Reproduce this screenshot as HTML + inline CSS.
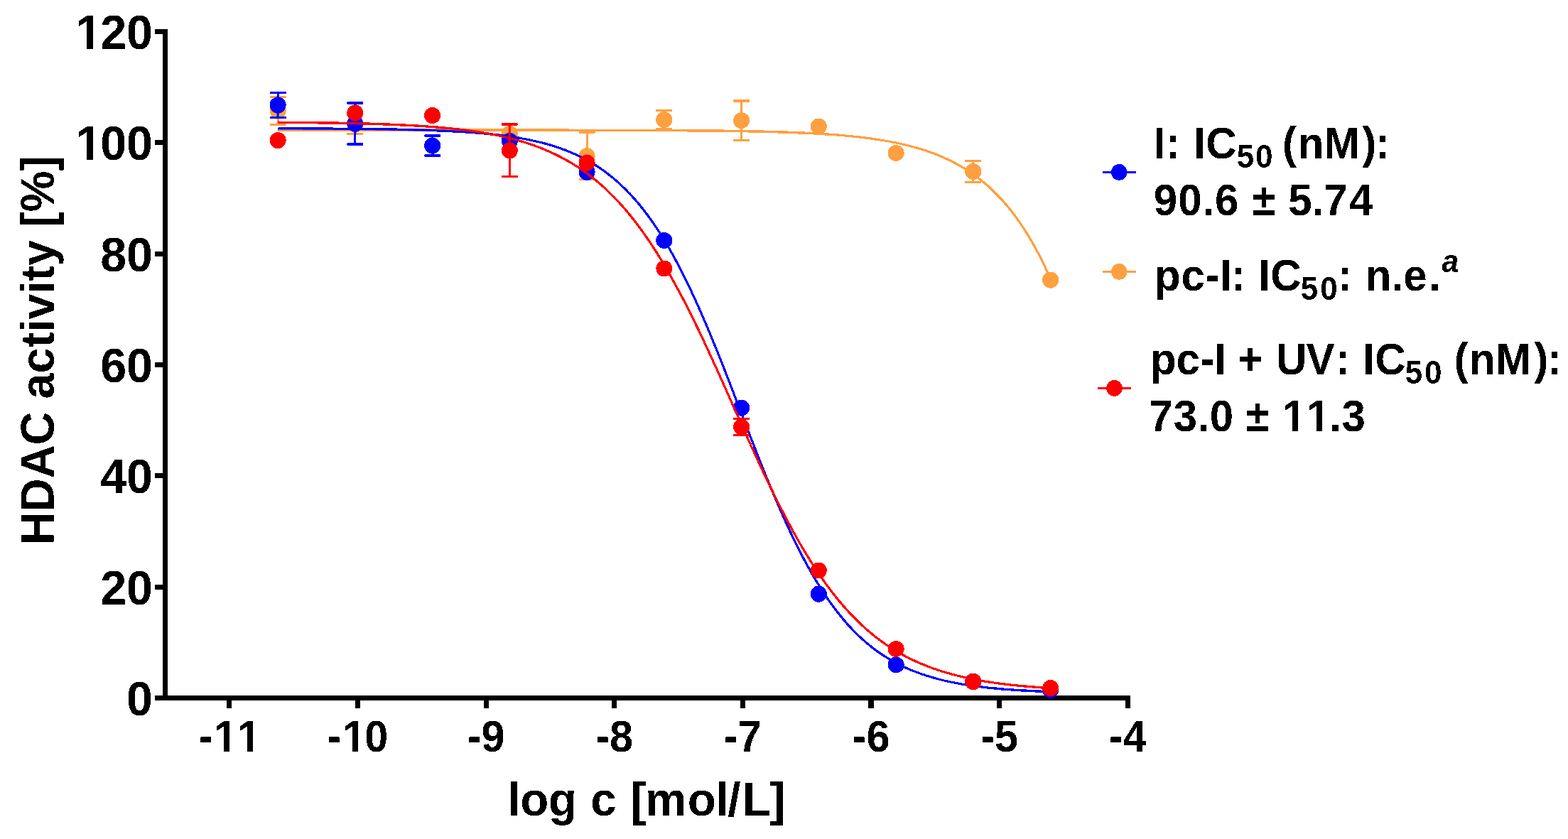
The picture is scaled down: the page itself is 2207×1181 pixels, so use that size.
<!DOCTYPE html>
<html><head><meta charset="utf-8"><title>HDAC activity</title>
<style>html,body{margin:0;padding:0;background:#fff;overflow:hidden;}svg{display:block}
text{font-family:"Liberation Sans",Arial,sans-serif;font-weight:bold;fill:#000;font-kerning:none;font-feature-settings:"kern" 0}</style></head>
<body>
<svg width="2207" height="1181" viewBox="0 0 2207 1181">
<rect width="2207" height="1181" fill="#fff"/>
<defs><filter id="alias" x="0" y="0" width="2207" height="1181" filterUnits="userSpaceOnUse" color-interpolation-filters="sRGB"><feComponentTransfer><feFuncA type="discrete" tableValues="0 1"/></feComponentTransfer></filter></defs>
<g filter="url(#alias)">
<g fill="#000">
<rect x="229" y="41" width="7" height="945"/>
<rect x="218" y="979" width="1373" height="7"/>
<rect x="218" y="979.0" width="18" height="7"/>
<rect x="218" y="822.7" width="18" height="7"/>
<rect x="218" y="666.3" width="18" height="7"/>
<rect x="218" y="510.0" width="18" height="7"/>
<rect x="218" y="353.7" width="18" height="7"/>
<rect x="218" y="197.3" width="18" height="7"/>
<rect x="218" y="41.0" width="18" height="7"/>
<rect x="319.3" y="979" width="7" height="18"/>
<rect x="500.0" y="979" width="7" height="18"/>
<rect x="680.6" y="979" width="7" height="18"/>
<rect x="861.2" y="979" width="7" height="18"/>
<rect x="1041.9" y="979" width="7" height="18"/>
<rect x="1222.5" y="979" width="7" height="18"/>
<rect x="1403.2" y="979" width="7" height="18"/>
<rect x="1583.8" y="979" width="7" height="18"/>
</g>
<g mask="url(#feet)">
<text transform="translate(0,1006.8) scale(1,1.04)" font-size="66.4" x="178.07">0</text>
<text transform="translate(0,850.5) scale(1,1.04)" font-size="66.4" x="141.14 178.07">20</text>
<text transform="translate(0,694.1) scale(1,1.04)" font-size="66.4" x="141.14 178.07">40</text>
<text transform="translate(0,537.8) scale(1,1.04)" font-size="66.4" x="141.14 178.07">60</text>
<text transform="translate(0,381.5) scale(1,1.04)" font-size="66.4" x="141.14 178.07">80</text>
<text transform="translate(0,225.1) scale(1,1.04)" font-size="66.4" x="106.50 141.14 178.07">100</text>
<text transform="translate(0,68.8) scale(1,1.04)" font-size="66.4" x="106.50 141.14 178.07">120</text>
<text transform="translate(0,1057.8) scale(1,1.06)" font-size="59.4" x="279.89 301.14 334.14">-11</text>
<text transform="translate(0,1057.8) scale(1,1.06)" font-size="59.4" x="460.53 482.14 513.35">-10</text>
<text transform="translate(0,1057.8) scale(1,1.06)" font-size="59.4" x="657.69 677.47">-9</text>
<text transform="translate(0,1057.8) scale(1,1.06)" font-size="59.4" x="838.33 858.11">-8</text>
<text transform="translate(0,1057.8) scale(1,1.06)" font-size="59.4" x="1018.97 1038.75">-7</text>
<text transform="translate(0,1057.8) scale(1,1.06)" font-size="59.4" x="1199.61 1219.39">-6</text>
<text transform="translate(0,1057.8) scale(1,1.06)" font-size="59.4" x="1380.25 1400.03">-5</text>
<text transform="translate(0,1057.8) scale(1,1.06)" font-size="59.4" x="1560.89 1580.67">-4</text>
</g>
<text transform="translate(0,1147.6) scale(1,1.02)" font-size="65.6" x="714.42 732.24 772.11 812.18 831.24 867.72 887.62 907.88 967.64 1007.52 1024.36 1044.81 1083.60" xml:space="preserve">log c [mol/L]</text>
<text transform="translate(76,767) rotate(-90) scale(1,1.04)" font-size="64.9">HDAC activity [%]</text>
<g fill="#FFA040" stroke="none">
<path d="M391.1,183.2 L393.1,183.2 L395.1,183.2 L397.1,183.2 L399.1,183.2 L401.1,183.2 L403.1,183.2 L405.1,183.2 L407.1,183.2 L409.1,183.2 L411.1,183.2 L413.1,183.2 L415.1,183.2 L417.1,183.2 L419.1,183.2 L421.1,183.2 L423.1,183.2 L425.1,183.2 L427.1,183.2 L429.1,183.2 L431.1,183.2 L433.1,183.2 L435.1,183.2 L437.1,183.2 L439.1,183.2 L441.1,183.2 L443.1,183.2 L445.1,183.2 L447.1,183.2 L449.1,183.2 L451.1,183.2 L453.1,183.2 L455.1,183.2 L457.1,183.2 L459.1,183.2 L461.1,183.2 L463.1,183.2 L465.1,183.2 L467.1,183.2 L469.1,183.2 L471.1,183.2 L473.1,183.2 L475.1,183.2 L477.1,183.2 L479.1,183.2 L481.1,183.2 L483.1,183.2 L485.1,183.2 L487.1,183.2 L489.1,183.2 L491.1,183.2 L493.1,183.2 L495.1,183.2 L497.1,183.2 L499.1,183.2 L501.1,183.2 L503.1,183.2 L505.1,183.2 L507.1,183.2 L509.1,183.2 L511.1,183.2 L513.1,183.2 L515.1,183.2 L517.1,183.2 L519.1,183.2 L521.1,183.2 L523.1,183.2 L525.1,183.2 L527.1,183.2 L529.1,183.2 L531.1,183.2 L533.1,183.2 L535.1,183.2 L537.1,183.2 L539.1,183.2 L541.1,183.2 L543.1,183.2 L545.1,183.2 L547.1,183.2 L549.1,183.2 L551.1,183.2 L553.1,183.2 L555.1,183.2 L557.1,183.2 L559.1,183.2 L561.1,183.2 L563.1,183.2 L565.1,183.2 L567.1,183.2 L569.1,183.2 L571.1,183.2 L573.1,183.2 L575.1,183.2 L577.1,183.2 L579.1,183.2 L581.1,183.2 L583.1,183.2 L585.1,183.2 L587.1,183.2 L589.1,183.2 L591.1,183.2 L593.1,183.2 L595.1,183.2 L597.1,183.2 L599.1,183.2 L601.1,183.2 L603.1,183.2 L605.1,183.2 L607.1,183.2 L609.1,183.2 L611.1,183.2 L613.1,183.2 L615.1,183.2 L617.1,183.2 L619.1,183.2 L621.1,183.2 L623.1,183.2 L625.1,183.2 L627.1,183.2 L629.1,183.2 L631.1,183.2 L633.1,183.2 L635.1,183.2 L637.1,183.2 L639.1,183.2 L641.1,183.2 L643.1,183.2 L645.1,183.2 L647.1,183.2 L649.1,183.2 L651.1,183.2 L653.1,183.2 L655.1,183.2 L657.1,183.2 L659.1,183.2 L661.1,183.2 L663.1,183.2 L665.1,183.2 L667.1,183.2 L669.1,183.2 L671.1,183.2 L673.1,183.2 L675.1,183.2 L677.1,183.2 L679.1,183.2 L681.1,183.2 L683.1,183.2 L685.1,183.2 L687.1,183.2 L689.1,183.2 L691.1,183.2 L693.1,183.2 L695.1,183.2 L697.1,183.2 L699.1,183.2 L701.1,183.2 L703.1,183.2 L705.1,183.2 L707.1,183.2 L709.1,183.2 L711.1,183.2 L713.1,183.2 L715.1,183.2 L717.1,183.2 L719.1,183.2 L721.1,183.2 L723.1,183.2 L725.1,183.2 L727.1,183.2 L729.1,183.2 L731.1,183.2 L733.1,183.2 L735.1,183.2 L737.1,183.2 L739.1,183.2 L741.1,183.2 L743.1,183.2 L745.1,183.2 L747.1,183.2 L749.1,183.2 L751.1,183.2 L753.1,183.2 L755.1,183.2 L757.1,183.2 L759.1,183.2 L761.1,183.2 L763.1,183.2 L765.1,183.2 L767.1,183.2 L769.1,183.2 L771.1,183.2 L773.1,183.2 L775.1,183.2 L777.1,183.2 L779.1,183.2 L781.1,183.2 L783.1,183.2 L785.1,183.2 L787.1,183.2 L789.1,183.2 L791.1,183.2 L793.1,183.2 L795.1,183.2 L797.1,183.2 L799.1,183.2 L801.1,183.2 L803.1,183.3 L805.1,183.3 L807.1,183.3 L809.1,183.3 L811.1,183.3 L813.1,183.3 L815.1,183.3 L817.1,183.3 L819.1,183.3 L821.1,183.3 L823.1,183.3 L825.1,183.3 L827.1,183.3 L829.1,183.3 L831.1,183.3 L833.1,183.3 L835.1,183.3 L837.1,183.3 L839.1,183.3 L841.1,183.3 L843.1,183.3 L845.1,183.3 L847.1,183.3 L849.1,183.3 L851.1,183.3 L853.1,183.3 L855.1,183.3 L857.1,183.3 L859.1,183.3 L861.1,183.3 L863.1,183.3 L865.1,183.3 L867.1,183.3 L869.1,183.4 L871.1,183.4 L873.1,183.4 L875.1,183.4 L877.1,183.4 L879.1,183.4 L881.1,183.4 L883.1,183.4 L885.1,183.4 L887.1,183.4 L889.1,183.4 L891.1,183.4 L893.1,183.4 L895.1,183.4 L897.1,183.4 L899.1,183.4 L901.1,183.4 L903.1,183.4 L905.1,183.4 L907.1,183.5 L909.1,183.5 L911.1,183.5 L913.1,183.5 L915.1,183.5 L917.1,183.5 L919.1,183.5 L921.1,183.5 L923.1,183.5 L925.1,183.5 L927.1,183.5 L929.1,183.5 L931.1,183.6 L933.1,183.6 L935.1,183.6 L937.1,183.6 L939.1,183.6 L941.1,183.6 L943.1,183.6 L945.1,183.6 L947.1,183.6 L949.1,183.6 L951.1,183.7 L953.1,183.7 L955.1,183.7 L957.1,183.7 L959.1,183.7 L961.1,183.7 L963.1,183.7 L965.1,183.7 L967.1,183.8 L969.1,183.8 L971.1,183.8 L973.1,183.8 L975.1,183.8 L977.1,183.8 L979.1,183.8 L981.1,183.9 L983.1,183.9 L985.1,183.9 L987.1,183.9 L989.1,183.9 L991.1,183.9 L993.1,184.0 L995.1,184.0 L997.1,184.0 L999.1,184.0 L1001.1,184.0 L1003.1,184.1 L1005.1,184.1 L1007.1,184.1 L1009.1,184.1 L1011.1,184.1 L1013.1,184.2 L1015.1,184.2 L1017.1,184.2 L1019.1,184.2 L1021.1,184.3 L1023.1,184.3 L1025.1,184.3 L1027.1,184.3 L1029.1,184.4 L1031.1,184.4 L1033.1,184.4 L1035.1,184.5 L1037.1,184.5 L1039.1,184.5 L1041.1,184.6 L1043.1,184.6 L1045.1,184.6 L1047.1,184.7 L1049.1,184.7 L1051.1,184.7 L1053.1,184.8 L1055.1,184.8 L1057.1,184.8 L1059.1,184.9 L1061.1,184.9 L1063.1,185.0 L1065.1,185.0 L1067.1,185.0 L1069.1,185.1 L1071.1,185.1 L1073.1,185.2 L1075.1,185.2 L1077.1,185.3 L1079.1,185.3 L1081.1,185.4 L1083.1,185.4 L1085.1,185.5 L1087.1,185.5 L1089.1,185.6 L1091.1,185.6 L1093.1,185.7 L1095.1,185.8 L1097.1,185.8 L1099.1,185.9 L1101.1,186.0 L1103.1,186.0 L1105.1,186.1 L1107.1,186.2 L1109.1,186.2 L1111.1,186.3 L1113.1,186.4 L1115.1,186.4 L1117.1,186.5 L1119.1,186.6 L1121.1,186.7 L1123.1,186.8 L1125.1,186.9 L1127.1,186.9 L1129.1,187.0 L1131.1,187.1 L1133.1,187.2 L1135.1,187.3 L1137.1,187.4 L1139.1,187.5 L1141.1,187.6 L1143.1,187.7 L1145.1,187.8 L1147.1,187.9 L1149.1,188.0 L1151.1,188.1 L1153.1,188.3 L1155.1,188.4 L1157.1,188.5 L1159.1,188.6 L1161.1,188.8 L1163.1,188.9 L1165.1,189.0 L1167.1,189.2 L1169.1,189.3 L1171.1,189.5 L1173.1,189.6 L1175.1,189.7 L1177.1,189.9 L1179.1,190.1 L1181.1,190.2 L1183.1,190.4 L1185.1,190.6 L1187.1,190.7 L1189.1,190.9 L1191.1,191.1 L1193.1,191.3 L1195.1,191.5 L1197.1,191.7 L1199.1,191.9 L1201.1,192.1 L1203.1,192.3 L1205.1,192.5 L1207.1,192.7 L1209.1,192.9 L1211.1,193.2 L1213.1,193.4 L1215.1,193.6 L1217.1,193.9 L1219.1,194.1 L1221.1,194.4 L1223.1,194.6 L1225.1,194.9 L1227.1,195.2 L1229.1,195.5 L1231.1,195.8 L1233.1,196.1 L1235.1,196.4 L1237.1,196.7 L1239.1,197.0 L1241.1,197.3 L1243.1,197.6 L1245.1,198.0 L1247.1,198.3 L1249.1,198.7 L1251.1,199.0 L1253.1,199.4 L1255.1,199.8 L1257.1,200.2 L1259.1,200.6 L1261.1,201.0 L1263.1,201.4 L1265.1,201.8 L1267.1,202.3 L1269.1,202.7 L1271.1,203.2 L1273.1,203.6 L1275.1,204.1 L1277.1,204.6 L1279.1,205.1 L1281.1,205.6 L1283.1,206.1 L1285.1,206.7 L1287.1,207.2 L1289.1,207.8 L1291.1,208.4 L1293.1,208.9 L1295.1,209.5 L1297.1,210.2 L1299.1,210.8 L1301.1,211.4 L1303.1,212.1 L1305.1,212.8 L1307.1,213.5 L1309.1,214.2 L1311.1,214.9 L1313.1,215.6 L1315.1,216.4 L1317.1,217.1 L1319.1,217.9 L1321.1,218.7 L1323.1,219.6 L1325.1,220.4 L1327.1,221.3 L1329.1,222.2 L1331.1,223.1 L1333.1,224.0 L1335.1,224.9 L1337.1,225.9 L1339.1,226.9 L1341.1,227.9 L1343.1,229.0 L1345.1,230.0 L1347.1,231.1 L1349.1,232.2 L1351.1,233.3 L1353.1,234.5 L1355.1,235.7 L1357.1,236.9 L1359.1,238.1 L1361.1,239.4 L1363.1,240.7 L1365.1,242.0 L1367.1,243.4 L1369.1,244.8 L1371.1,246.2 L1373.1,247.7 L1375.1,249.1 L1377.1,250.7 L1379.1,252.2 L1381.1,253.8 L1383.1,255.4 L1385.1,257.1 L1387.1,258.8 L1389.1,260.5 L1391.1,262.3 L1393.1,264.1 L1395.1,265.9 L1397.1,267.8 L1399.1,269.8 L1401.1,271.8 L1403.1,273.8 L1405.1,275.8 L1407.1,278.0 L1409.1,280.1 L1411.1,282.3 L1413.1,284.6 L1415.1,286.9 L1417.1,289.2 L1419.1,291.6 L1421.1,294.1 L1423.1,296.6 L1425.1,299.2 L1427.1,301.8 L1429.1,304.5 L1431.1,307.2 L1433.1,310.0 L1435.1,312.9 L1437.1,315.8 L1439.1,318.8 L1441.1,321.8 L1443.1,325.0 L1445.1,328.1 L1447.1,331.4 L1449.1,334.7 L1451.1,338.1 L1453.1,341.5 L1455.1,345.1 L1457.1,348.7 L1459.1,352.4 L1461.1,356.1 L1463.1,360.0 L1465.1,363.9 L1467.1,367.9 L1469.1,372.0 L1471.1,376.1 L1473.1,380.4 L1475.1,384.7 L1477.1,389.1" fill="none" stroke="#FFA040" stroke-width="3.2"/>
<rect x="389.6" y="136.8" width="3" height="38.5"/>
<rect x="379.6" y="135.2" width="23.0" height="3"/>
<rect x="379.6" y="173.8" width="23.0" height="3"/>
<circle cx="391.1" cy="156.0" r="11.5"/>
<rect x="498.3" y="161.5" width="3" height="27.0"/>
<rect x="488.3" y="160.0" width="23.0" height="3"/>
<rect x="488.3" y="187.0" width="23.0" height="3"/>
<circle cx="499.8" cy="175.0" r="11.5"/>
<circle cx="717.3" cy="188.4" r="11.5"/>
<rect x="824.6" y="186.3" width="3" height="66.5"/>
<rect x="814.6" y="184.8" width="23.0" height="3"/>
<rect x="814.6" y="251.3" width="23.0" height="3"/>
<circle cx="826.1" cy="219.6" r="11.5"/>
<rect x="933.3" y="155.5" width="3" height="26.0"/>
<rect x="923.3" y="154.0" width="23.0" height="3"/>
<rect x="923.3" y="180.0" width="23.0" height="3"/>
<circle cx="934.8" cy="168.5" r="11.5"/>
<rect x="1042.1" y="142.0" width="3" height="55.4"/>
<rect x="1032.1" y="140.5" width="23.0" height="3"/>
<rect x="1032.1" y="195.9" width="23.0" height="3"/>
<circle cx="1043.6" cy="169.7" r="11.5"/>
<circle cx="1152.3" cy="178.0" r="11.5"/>
<circle cx="1261.1" cy="215.4" r="11.5"/>
<rect x="1368.3" y="226.4" width="3" height="30.0"/>
<rect x="1358.3" y="224.9" width="23.0" height="3"/>
<rect x="1358.3" y="254.9" width="23.0" height="3"/>
<circle cx="1369.8" cy="241.4" r="11.5"/>
<circle cx="1478.6" cy="394.0" r="11.5"/>
</g>
<g fill="#0000FF" stroke="none">
<path d="M391.1,181.0 L393.1,181.0 L395.1,181.0 L397.1,181.0 L399.1,181.0 L401.1,181.0 L403.1,181.0 L405.1,181.0 L407.1,181.0 L409.1,181.0 L411.1,181.0 L413.1,181.0 L415.1,181.0 L417.1,181.0 L419.1,181.0 L421.1,181.0 L423.1,181.0 L425.1,181.0 L427.1,181.1 L429.1,181.1 L431.1,181.1 L433.1,181.1 L435.1,181.1 L437.1,181.1 L439.1,181.1 L441.1,181.1 L443.1,181.1 L445.1,181.1 L447.1,181.1 L449.1,181.1 L451.1,181.1 L453.1,181.2 L455.1,181.2 L457.1,181.2 L459.1,181.2 L461.1,181.2 L463.1,181.2 L465.1,181.2 L467.1,181.2 L469.1,181.2 L471.1,181.3 L473.1,181.3 L475.1,181.3 L477.1,181.3 L479.1,181.3 L481.1,181.3 L483.1,181.3 L485.1,181.3 L487.1,181.4 L489.1,181.4 L491.1,181.4 L493.1,181.4 L495.1,181.4 L497.1,181.4 L499.1,181.5 L501.1,181.5 L503.1,181.5 L505.1,181.5 L507.1,181.5 L509.1,181.5 L511.1,181.6 L513.1,181.6 L515.1,181.6 L517.1,181.6 L519.1,181.7 L521.1,181.7 L523.1,181.7 L525.1,181.7 L527.1,181.7 L529.1,181.8 L531.1,181.8 L533.1,181.8 L535.1,181.9 L537.1,181.9 L539.1,181.9 L541.1,181.9 L543.1,182.0 L545.1,182.0 L547.1,182.0 L549.1,182.1 L551.1,182.1 L553.1,182.1 L555.1,182.2 L557.1,182.2 L559.1,182.2 L561.1,182.3 L563.1,182.3 L565.1,182.4 L567.1,182.4 L569.1,182.4 L571.1,182.5 L573.1,182.5 L575.1,182.6 L577.1,182.6 L579.1,182.7 L581.1,182.7 L583.1,182.8 L585.1,182.8 L587.1,182.9 L589.1,182.9 L591.1,183.0 L593.1,183.0 L595.1,183.1 L597.1,183.2 L599.1,183.2 L601.1,183.3 L603.1,183.4 L605.1,183.4 L607.1,183.5 L609.1,183.6 L611.1,183.6 L613.1,183.7 L615.1,183.8 L617.1,183.9 L619.1,184.0 L621.1,184.0 L623.1,184.1 L625.1,184.2 L627.1,184.3 L629.1,184.4 L631.1,184.5 L633.1,184.6 L635.1,184.7 L637.1,184.8 L639.1,184.9 L641.1,185.0 L643.1,185.1 L645.1,185.2 L647.1,185.3 L649.1,185.5 L651.1,185.6 L653.1,185.7 L655.1,185.8 L657.1,186.0 L659.1,186.1 L661.1,186.2 L663.1,186.4 L665.1,186.5 L667.1,186.7 L669.1,186.8 L671.1,187.0 L673.1,187.2 L675.1,187.3 L677.1,187.5 L679.1,187.7 L681.1,187.9 L683.1,188.0 L685.1,188.2 L687.1,188.4 L689.1,188.6 L691.1,188.8 L693.1,189.0 L695.1,189.3 L697.1,189.5 L699.1,189.7 L701.1,189.9 L703.1,190.2 L705.1,190.4 L707.1,190.7 L709.1,190.9 L711.1,191.2 L713.1,191.5 L715.1,191.7 L717.1,192.0 L719.1,192.3 L721.1,192.6 L723.1,192.9 L725.1,193.2 L727.1,193.6 L729.1,193.9 L731.1,194.2 L733.1,194.6 L735.1,195.0 L737.1,195.3 L739.1,195.7 L741.1,196.1 L743.1,196.5 L745.1,196.9 L747.1,197.3 L749.1,197.7 L751.1,198.2 L753.1,198.6 L755.1,199.1 L757.1,199.6 L759.1,200.0 L761.1,200.5 L763.1,201.0 L765.1,201.6 L767.1,202.1 L769.1,202.6 L771.1,203.2 L773.1,203.8 L775.1,204.4 L777.1,205.0 L779.1,205.6 L781.1,206.2 L783.1,206.9 L785.1,207.6 L787.1,208.2 L789.1,208.9 L791.1,209.7 L793.1,210.4 L795.1,211.1 L797.1,211.9 L799.1,212.7 L801.1,213.5 L803.1,214.3 L805.1,215.2 L807.1,216.1 L809.1,216.9 L811.1,217.9 L813.1,218.8 L815.1,219.8 L817.1,220.7 L819.1,221.7 L821.1,222.8 L823.1,223.8 L825.1,224.9 L827.1,226.0 L829.1,227.1 L831.1,228.3 L833.1,229.4 L835.1,230.6 L837.1,231.9 L839.1,233.1 L841.1,234.4 L843.1,235.8 L845.1,237.1 L847.1,238.5 L849.1,239.9 L851.1,241.3 L853.1,242.8 L855.1,244.3 L857.1,245.9 L859.1,247.5 L861.1,249.1 L863.1,250.7 L865.1,252.4 L867.1,254.1 L869.1,255.9 L871.1,257.7 L873.1,259.5 L875.1,261.4 L877.1,263.3 L879.1,265.2 L881.1,267.2 L883.1,269.3 L885.1,271.3 L887.1,273.4 L889.1,275.6 L891.1,277.8 L893.1,280.1 L895.1,282.3 L897.1,284.7 L899.1,287.1 L901.1,289.5 L903.1,292.0 L905.1,294.5 L907.1,297.0 L909.1,299.7 L911.1,302.3 L913.1,305.0 L915.1,307.8 L917.1,310.6 L919.1,313.5 L921.1,316.4 L923.1,319.4 L925.1,322.4 L927.1,325.4 L929.1,328.5 L931.1,331.7 L933.1,334.9 L935.1,338.2 L937.1,341.5 L939.1,344.9 L941.1,348.3 L943.1,351.8 L945.1,355.3 L947.1,358.9 L949.1,362.6 L951.1,366.2 L953.1,370.0 L955.1,373.8 L957.1,377.6 L959.1,381.5 L961.1,385.5 L963.1,389.4 L965.1,393.5 L967.1,397.6 L969.1,401.7 L971.1,405.9 L973.1,410.2 L975.1,414.4 L977.1,418.8 L979.1,423.2 L981.1,427.6 L983.1,432.0 L985.1,436.5 L987.1,441.1 L989.1,445.7 L991.1,450.3 L993.1,455.0 L995.1,459.7 L997.1,464.5 L999.1,469.2 L1001.1,474.1 L1003.1,478.9 L1005.1,483.8 L1007.1,488.7 L1009.1,493.7 L1011.1,498.6 L1013.1,503.6 L1015.1,508.6 L1017.1,513.7 L1019.1,518.7 L1021.1,523.8 L1023.1,528.9 L1025.1,534.1 L1027.1,539.2 L1029.1,544.3 L1031.1,549.5 L1033.1,554.7 L1035.1,559.8 L1037.1,565.0 L1039.1,570.2 L1041.1,575.4 L1043.1,580.6 L1045.1,585.8 L1047.1,591.0 L1049.1,596.2 L1051.1,601.4 L1053.1,606.5 L1055.1,611.7 L1057.1,616.8 L1059.1,622.0 L1061.1,627.1 L1063.1,632.2 L1065.1,637.3 L1067.1,642.4 L1069.1,647.4 L1071.1,652.4 L1073.1,657.4 L1075.1,662.4 L1077.1,667.4 L1079.1,672.3 L1081.1,677.2 L1083.1,682.0 L1085.1,686.9 L1087.1,691.7 L1089.1,696.4 L1091.1,701.1 L1093.1,705.8 L1095.1,710.4 L1097.1,715.1 L1099.1,719.6 L1101.1,724.1 L1103.1,728.6 L1105.1,733.0 L1107.1,737.4 L1109.1,741.8 L1111.1,746.1 L1113.1,750.3 L1115.1,754.5 L1117.1,758.7 L1119.1,762.8 L1121.1,766.8 L1123.1,770.8 L1125.1,774.8 L1127.1,778.7 L1129.1,782.5 L1131.1,786.3 L1133.1,790.1 L1135.1,793.8 L1137.1,797.4 L1139.1,801.0 L1141.1,804.6 L1143.1,808.1 L1145.1,811.5 L1147.1,814.9 L1149.1,818.2 L1151.1,821.5 L1153.1,824.7 L1155.1,827.9 L1157.1,831.0 L1159.1,834.1 L1161.1,837.1 L1163.1,840.1 L1165.1,843.0 L1167.1,845.9 L1169.1,848.7 L1171.1,851.5 L1173.1,854.2 L1175.1,856.9 L1177.1,859.5 L1179.1,862.1 L1181.1,864.6 L1183.1,867.1 L1185.1,869.6 L1187.1,872.0 L1189.1,874.3 L1191.1,876.6 L1193.1,878.9 L1195.1,881.1 L1197.1,883.2 L1199.1,885.4 L1201.1,887.4 L1203.1,889.5 L1205.1,891.5 L1207.1,893.4 L1209.1,895.4 L1211.1,897.2 L1213.1,899.1 L1215.1,900.9 L1217.1,902.7 L1219.1,904.4 L1221.1,906.1 L1223.1,907.7 L1225.1,909.3 L1227.1,910.9 L1229.1,912.5 L1231.1,914.0 L1233.1,915.5 L1235.1,916.9 L1237.1,918.4 L1239.1,919.7 L1241.1,921.1 L1243.1,922.4 L1245.1,923.7 L1247.1,925.0 L1249.1,926.2 L1251.1,927.4 L1253.1,928.6 L1255.1,929.8 L1257.1,930.9 L1259.1,932.0 L1261.1,933.1 L1263.1,934.2 L1265.1,935.2 L1267.1,936.2 L1269.1,937.2 L1271.1,938.1 L1273.1,939.1 L1275.1,940.0 L1277.1,940.9 L1279.1,941.8 L1281.1,942.6 L1283.1,943.5 L1285.1,944.3 L1287.1,945.1 L1289.1,945.8 L1291.1,946.6 L1293.1,947.3 L1295.1,948.1 L1297.1,948.8 L1299.1,949.4 L1301.1,950.1 L1303.1,950.8 L1305.1,951.4 L1307.1,952.0 L1309.1,952.6 L1311.1,953.2 L1313.1,953.8 L1315.1,954.4 L1317.1,954.9 L1319.1,955.5 L1321.1,956.0 L1323.1,956.5 L1325.1,957.0 L1327.1,957.5 L1329.1,958.0 L1331.1,958.4 L1333.1,958.9 L1335.1,959.3 L1337.1,959.7 L1339.1,960.2 L1341.1,960.6 L1343.1,961.0 L1345.1,961.4 L1347.1,961.7 L1349.1,962.1 L1351.1,962.5 L1353.1,962.8 L1355.1,963.2 L1357.1,963.5 L1359.1,963.8 L1361.1,964.1 L1363.1,964.5 L1365.1,964.8 L1367.1,965.1 L1369.1,965.3 L1371.1,965.6 L1373.1,965.9 L1375.1,966.2 L1377.1,966.4 L1379.1,966.7 L1381.1,966.9 L1383.1,967.2 L1385.1,967.4 L1387.1,967.6 L1389.1,967.8 L1391.1,968.1 L1393.1,968.3 L1395.1,968.5 L1397.1,968.7 L1399.1,968.9 L1401.1,969.1 L1403.1,969.2 L1405.1,969.4 L1407.1,969.6 L1409.1,969.8 L1411.1,969.9 L1413.1,970.1 L1415.1,970.3 L1417.1,970.4 L1419.1,970.6 L1421.1,970.7 L1423.1,970.9 L1425.1,971.0 L1427.1,971.1 L1429.1,971.3 L1431.1,971.4 L1433.1,971.5 L1435.1,971.7 L1437.1,971.8 L1439.1,971.9 L1441.1,972.0 L1443.1,972.1 L1445.1,972.2 L1447.1,972.3 L1449.1,972.4 L1451.1,972.5 L1453.1,972.6 L1455.1,972.7 L1457.1,972.8 L1459.1,972.9 L1461.1,973.0 L1463.1,973.1 L1465.1,973.2 L1467.1,973.3 L1469.1,973.3 L1471.1,973.4 L1473.1,973.5 L1475.1,973.6 L1477.1,973.6" fill="none" stroke="#0000FF" stroke-width="3.2"/>
<rect x="389.6" y="130.5" width="3" height="35.0"/>
<rect x="379.6" y="129.0" width="23.0" height="3"/>
<rect x="379.6" y="164.0" width="23.0" height="3"/>
<circle cx="391.1" cy="148.0" r="11.5"/>
<rect x="498.3" y="145.0" width="3" height="58.0"/>
<rect x="488.3" y="143.5" width="23.0" height="3"/>
<rect x="488.3" y="201.5" width="23.0" height="3"/>
<circle cx="499.8" cy="174.0" r="11.5"/>
<rect x="607.1" y="191.0" width="3" height="28.0"/>
<rect x="597.1" y="189.5" width="23.0" height="3"/>
<rect x="597.1" y="217.5" width="23.0" height="3"/>
<circle cx="608.6" cy="205.0" r="11.5"/>
<circle cx="717.3" cy="198.5" r="11.5"/>
<circle cx="826.1" cy="242.3" r="11.5"/>
<circle cx="934.8" cy="338.4" r="11.5"/>
<circle cx="1043.6" cy="574.0" r="11.5"/>
<circle cx="1152.3" cy="836.0" r="11.5"/>
<circle cx="1261.1" cy="935.9" r="11.5"/>
<circle cx="1369.8" cy="959.3" r="11.5"/>
<circle cx="1478.6" cy="971.3" r="11.5"/>
</g>
<g fill="#FF0000" stroke="none">
<path d="M391.1,172.2 L393.1,172.2 L395.1,172.3 L397.1,172.3 L399.1,172.3 L401.1,172.3 L403.1,172.3 L405.1,172.3 L407.1,172.3 L409.1,172.4 L411.1,172.4 L413.1,172.4 L415.1,172.4 L417.1,172.4 L419.1,172.4 L421.1,172.5 L423.1,172.5 L425.1,172.5 L427.1,172.5 L429.1,172.5 L431.1,172.6 L433.1,172.6 L435.1,172.6 L437.1,172.6 L439.1,172.7 L441.1,172.7 L443.1,172.7 L445.1,172.7 L447.1,172.8 L449.1,172.8 L451.1,172.8 L453.1,172.8 L455.1,172.9 L457.1,172.9 L459.1,172.9 L461.1,173.0 L463.1,173.0 L465.1,173.0 L467.1,173.0 L469.1,173.1 L471.1,173.1 L473.1,173.1 L475.1,173.2 L477.1,173.2 L479.1,173.3 L481.1,173.3 L483.1,173.3 L485.1,173.4 L487.1,173.4 L489.1,173.4 L491.1,173.5 L493.1,173.5 L495.1,173.6 L497.1,173.6 L499.1,173.7 L501.1,173.7 L503.1,173.8 L505.1,173.8 L507.1,173.9 L509.1,173.9 L511.1,174.0 L513.1,174.0 L515.1,174.1 L517.1,174.1 L519.1,174.2 L521.1,174.2 L523.1,174.3 L525.1,174.3 L527.1,174.4 L529.1,174.5 L531.1,174.5 L533.1,174.6 L535.1,174.7 L537.1,174.7 L539.1,174.8 L541.1,174.9 L543.1,175.0 L545.1,175.0 L547.1,175.1 L549.1,175.2 L551.1,175.3 L553.1,175.4 L555.1,175.4 L557.1,175.5 L559.1,175.6 L561.1,175.7 L563.1,175.8 L565.1,175.9 L567.1,176.0 L569.1,176.1 L571.1,176.2 L573.1,176.3 L575.1,176.4 L577.1,176.5 L579.1,176.6 L581.1,176.7 L583.1,176.8 L585.1,177.0 L587.1,177.1 L589.1,177.2 L591.1,177.3 L593.1,177.4 L595.1,177.6 L597.1,177.7 L599.1,177.8 L601.1,178.0 L603.1,178.1 L605.1,178.3 L607.1,178.4 L609.1,178.6 L611.1,178.7 L613.1,178.9 L615.1,179.1 L617.1,179.2 L619.1,179.4 L621.1,179.6 L623.1,179.8 L625.1,179.9 L627.1,180.1 L629.1,180.3 L631.1,180.5 L633.1,180.7 L635.1,180.9 L637.1,181.1 L639.1,181.3 L641.1,181.5 L643.1,181.8 L645.1,182.0 L647.1,182.2 L649.1,182.5 L651.1,182.7 L653.1,182.9 L655.1,183.2 L657.1,183.5 L659.1,183.7 L661.1,184.0 L663.1,184.3 L665.1,184.6 L667.1,184.8 L669.1,185.1 L671.1,185.4 L673.1,185.7 L675.1,186.1 L677.1,186.4 L679.1,186.7 L681.1,187.0 L683.1,187.4 L685.1,187.7 L687.1,188.1 L689.1,188.5 L691.1,188.8 L693.1,189.2 L695.1,189.6 L697.1,190.0 L699.1,190.4 L701.1,190.8 L703.1,191.2 L705.1,191.7 L707.1,192.1 L709.1,192.6 L711.1,193.0 L713.1,193.5 L715.1,194.0 L717.1,194.5 L719.1,195.0 L721.1,195.5 L723.1,196.0 L725.1,196.5 L727.1,197.1 L729.1,197.6 L731.1,198.2 L733.1,198.8 L735.1,199.4 L737.1,200.0 L739.1,200.6 L741.1,201.2 L743.1,201.9 L745.1,202.6 L747.1,203.2 L749.1,203.9 L751.1,204.6 L753.1,205.3 L755.1,206.1 L757.1,206.8 L759.1,207.6 L761.1,208.3 L763.1,209.1 L765.1,209.9 L767.1,210.8 L769.1,211.6 L771.1,212.5 L773.1,213.3 L775.1,214.2 L777.1,215.1 L779.1,216.1 L781.1,217.0 L783.1,218.0 L785.1,219.0 L787.1,220.0 L789.1,221.0 L791.1,222.1 L793.1,223.1 L795.1,224.2 L797.1,225.3 L799.1,226.5 L801.1,227.6 L803.1,228.8 L805.1,230.0 L807.1,231.2 L809.1,232.5 L811.1,233.7 L813.1,235.0 L815.1,236.3 L817.1,237.7 L819.1,239.0 L821.1,240.4 L823.1,241.9 L825.1,243.3 L827.1,244.8 L829.1,246.3 L831.1,247.8 L833.1,249.4 L835.1,251.0 L837.1,252.6 L839.1,254.2 L841.1,255.9 L843.1,257.6 L845.1,259.3 L847.1,261.1 L849.1,262.9 L851.1,264.7 L853.1,266.6 L855.1,268.4 L857.1,270.4 L859.1,272.3 L861.1,274.3 L863.1,276.3 L865.1,278.4 L867.1,280.5 L869.1,282.6 L871.1,284.7 L873.1,286.9 L875.1,289.2 L877.1,291.4 L879.1,293.7 L881.1,296.1 L883.1,298.4 L885.1,300.8 L887.1,303.3 L889.1,305.8 L891.1,308.3 L893.1,310.8 L895.1,313.4 L897.1,316.0 L899.1,318.7 L901.1,321.4 L903.1,324.2 L905.1,326.9 L907.1,329.8 L909.1,332.6 L911.1,335.5 L913.1,338.5 L915.1,341.4 L917.1,344.5 L919.1,347.5 L921.1,350.6 L923.1,353.7 L925.1,356.9 L927.1,360.1 L929.1,363.3 L931.1,366.6 L933.1,369.9 L935.1,373.3 L937.1,376.7 L939.1,380.1 L941.1,383.6 L943.1,387.1 L945.1,390.7 L947.1,394.2 L949.1,397.9 L951.1,401.5 L953.1,405.2 L955.1,408.9 L957.1,412.7 L959.1,416.5 L961.1,420.3 L963.1,424.1 L965.1,428.0 L967.1,431.9 L969.1,435.9 L971.1,439.9 L973.1,443.9 L975.1,447.9 L977.1,452.0 L979.1,456.1 L981.1,460.2 L983.1,464.3 L985.1,468.5 L987.1,472.7 L989.1,476.9 L991.1,481.2 L993.1,485.4 L995.1,489.7 L997.1,494.0 L999.1,498.4 L1001.1,502.7 L1003.1,507.1 L1005.1,511.4 L1007.1,515.8 L1009.1,520.2 L1011.1,524.6 L1013.1,529.1 L1015.1,533.5 L1017.1,538.0 L1019.1,542.4 L1021.1,546.9 L1023.1,551.3 L1025.1,555.8 L1027.1,560.3 L1029.1,564.8 L1031.1,569.3 L1033.1,573.8 L1035.1,578.2 L1037.1,582.7 L1039.1,587.2 L1041.1,591.7 L1043.1,596.2 L1045.1,600.6 L1047.1,605.1 L1049.1,609.6 L1051.1,614.0 L1053.1,618.4 L1055.1,622.9 L1057.1,627.3 L1059.1,631.7 L1061.1,636.1 L1063.1,640.4 L1065.1,644.8 L1067.1,649.1 L1069.1,653.4 L1071.1,657.7 L1073.1,662.0 L1075.1,666.3 L1077.1,670.5 L1079.1,674.7 L1081.1,678.9 L1083.1,683.0 L1085.1,687.2 L1087.1,691.3 L1089.1,695.4 L1091.1,699.4 L1093.1,703.5 L1095.1,707.5 L1097.1,711.4 L1099.1,715.4 L1101.1,719.3 L1103.1,723.1 L1105.1,727.0 L1107.1,730.8 L1109.1,734.6 L1111.1,738.3 L1113.1,742.0 L1115.1,745.7 L1117.1,749.3 L1119.1,752.9 L1121.1,756.5 L1123.1,760.0 L1125.1,763.5 L1127.1,767.0 L1129.1,770.4 L1131.1,773.8 L1133.1,777.1 L1135.1,780.4 L1137.1,783.7 L1139.1,786.9 L1141.1,790.1 L1143.1,793.3 L1145.1,796.4 L1147.1,799.4 L1149.1,802.5 L1151.1,805.5 L1153.1,808.4 L1155.1,811.4 L1157.1,814.2 L1159.1,817.1 L1161.1,819.9 L1163.1,822.7 L1165.1,825.4 L1167.1,828.1 L1169.1,830.7 L1171.1,833.4 L1173.1,835.9 L1175.1,838.5 L1177.1,841.0 L1179.1,843.4 L1181.1,845.9 L1183.1,848.3 L1185.1,850.6 L1187.1,852.9 L1189.1,855.2 L1191.1,857.5 L1193.1,859.7 L1195.1,861.9 L1197.1,864.0 L1199.1,866.1 L1201.1,868.2 L1203.1,870.2 L1205.1,872.2 L1207.1,874.2 L1209.1,876.1 L1211.1,878.0 L1213.1,879.9 L1215.1,881.8 L1217.1,883.6 L1219.1,885.4 L1221.1,887.1 L1223.1,888.8 L1225.1,890.5 L1227.1,892.2 L1229.1,893.8 L1231.1,895.4 L1233.1,897.0 L1235.1,898.5 L1237.1,900.1 L1239.1,901.5 L1241.1,903.0 L1243.1,904.4 L1245.1,905.8 L1247.1,907.2 L1249.1,908.6 L1251.1,909.9 L1253.1,911.2 L1255.1,912.5 L1257.1,913.8 L1259.1,915.0 L1261.1,916.2 L1263.1,917.4 L1265.1,918.6 L1267.1,919.7 L1269.1,920.9 L1271.1,922.0 L1273.1,923.0 L1275.1,924.1 L1277.1,925.1 L1279.1,926.2 L1281.1,927.2 L1283.1,928.1 L1285.1,929.1 L1287.1,930.0 L1289.1,931.0 L1291.1,931.9 L1293.1,932.7 L1295.1,933.6 L1297.1,934.5 L1299.1,935.3 L1301.1,936.1 L1303.1,936.9 L1305.1,937.7 L1307.1,938.5 L1309.1,939.2 L1311.1,940.0 L1313.1,940.7 L1315.1,941.4 L1317.1,942.1 L1319.1,942.8 L1321.1,943.4 L1323.1,944.1 L1325.1,944.7 L1327.1,945.4 L1329.1,946.0 L1331.1,946.6 L1333.1,947.2 L1335.1,947.7 L1337.1,948.3 L1339.1,948.9 L1341.1,949.4 L1343.1,949.9 L1345.1,950.5 L1347.1,951.0 L1349.1,951.5 L1351.1,951.9 L1353.1,952.4 L1355.1,952.9 L1357.1,953.3 L1359.1,953.8 L1361.1,954.2 L1363.1,954.7 L1365.1,955.1 L1367.1,955.5 L1369.1,955.9 L1371.1,956.3 L1373.1,956.7 L1375.1,957.1 L1377.1,957.4 L1379.1,957.8 L1381.1,958.1 L1383.1,958.5 L1385.1,958.8 L1387.1,959.2 L1389.1,959.5 L1391.1,959.8 L1393.1,960.1 L1395.1,960.4 L1397.1,960.7 L1399.1,961.0 L1401.1,961.3 L1403.1,961.6 L1405.1,961.8 L1407.1,962.1 L1409.1,962.4 L1411.1,962.6 L1413.1,962.9 L1415.1,963.1 L1417.1,963.4 L1419.1,963.6 L1421.1,963.8 L1423.1,964.1 L1425.1,964.3 L1427.1,964.5 L1429.1,964.7 L1431.1,964.9 L1433.1,965.1 L1435.1,965.3 L1437.1,965.5 L1439.1,965.7 L1441.1,965.9 L1443.1,966.1 L1445.1,966.2 L1447.1,966.4 L1449.1,966.6 L1451.1,966.7 L1453.1,966.9 L1455.1,967.1 L1457.1,967.2 L1459.1,967.4 L1461.1,967.5 L1463.1,967.7 L1465.1,967.8 L1467.1,967.9 L1469.1,968.1 L1471.1,968.2 L1473.1,968.3 L1475.1,968.5 L1477.1,968.6" fill="none" stroke="#FF0000" stroke-width="3.2"/>
<circle cx="391.1" cy="197.5" r="11.5"/>
<circle cx="499.8" cy="158.9" r="11.5"/>
<circle cx="608.6" cy="162.5" r="11.5"/>
<rect x="715.8" y="175.0" width="3" height="73.6"/>
<rect x="705.8" y="173.5" width="23.0" height="3"/>
<rect x="705.8" y="247.1" width="23.0" height="3"/>
<circle cx="717.3" cy="211.8" r="11.5"/>
<circle cx="826.1" cy="229.2" r="11.5"/>
<circle cx="934.8" cy="377.9" r="11.5"/>
<rect x="1042.1" y="589.5" width="3" height="23.0"/>
<rect x="1032.1" y="588.0" width="23.0" height="3"/>
<rect x="1032.1" y="611.0" width="23.0" height="3"/>
<circle cx="1043.6" cy="601.0" r="11.5"/>
<circle cx="1152.3" cy="802.9" r="11.5"/>
<circle cx="1261.1" cy="913.4" r="11.5"/>
<circle cx="1369.8" cy="959.5" r="11.5"/>
<circle cx="1478.6" cy="968.6" r="11.5"/>
</g>
<rect x="1551.8" y="240.9" width="47" height="3" fill="#0000FF"/><circle cx="1575.3" cy="242.4" r="11.3" fill="#0000FF"/>
<rect x="1551.8" y="380.9" width="47" height="3" fill="#FFA040"/><circle cx="1575.3" cy="382.4" r="11.3" fill="#FFA040"/>
<rect x="1545.0" y="544.9" width="47" height="3" fill="#FF0000"/><circle cx="1568.5" cy="546.4" r="11.3" fill="#FF0000"/>
<text transform="translate(0,223.0) scale(1,1.04)" font-size="60.0" xml:space="preserve"><tspan x="1623.69 1641.33 1661.31 1679.99 1697.24" y="0.00">I: IC</tspan><tspan x="1740.85 1767.06" y="12.12" font-size="44.0">50</tspan><tspan x="1791.53 1804.91 1826.74 1863.79 1917.14 1936.23" y="0.00"> (nM):</tspan></text>
<text transform="translate(0,303.3) scale(1,1.04)" font-size="60.0" xml:space="preserve"><tspan x="1623.72 1658.23 1692.73 1709.90 1743.27 1762.56 1795.49 1813.15 1846.43 1863.22 1898.89" y="0.00">90.6 ± 5.74</tspan></text>
<text transform="translate(0,409.0) scale(1,1.04)" font-size="60.0" xml:space="preserve"><tspan x="1624.94 1662.56 1696.66 1716.99 1733.13 1753.11 1770.99 1788.34" y="0.00">pc-I: IC</tspan><tspan x="1830.85 1858.26" y="12.12" font-size="44.0">50</tspan><tspan x="1883.13 1903.11 1921.74 1958.83 1975.26 2011.03" y="0.00">: n.e.</tspan><tspan x="2029.29" y="-25.48" font-size="43.0" font-style="italic">a</tspan></text>
<text transform="translate(0,526.9) scale(1,1.04)" font-size="60.0" xml:space="preserve"><tspan x="1618.94 1655.46 1689.46 1708.89 1725.56 1742.28 1777.32 1796.00 1838.59 1880.13 1900.11 1917.89 1935.34" y="0.00">pc-I + UV: IC</tspan><tspan x="1977.65 2004.96" y="12.12" font-size="44.0">50</tspan><tspan x="2029.43 2046.71 2067.94 2104.89 2159.24 2177.93" y="0.00"> (nM):</tspan></text>
<g mask="url(#feet)">
<text transform="translate(0,606.8) scale(1,1.04)" font-size="60.0" xml:space="preserve"><tspan x="1617.32 1651.72 1685.63 1702.63 1736.00 1753.56 1786.49 1805.00 1839.00 1870.93 1888.42" y="0.00">73.0 ± 11.3</tspan></text>
</g>
<defs><mask id="feet" maskUnits="userSpaceOnUse" x="0" y="0" width="2207" height="1181"><rect width="2207" height="1181" fill="#fff"/><g fill="#000"><rect x="109.39" y="217.48" width="12.61" height="8.65"/><rect x="131" y="217.48" width="11.91" height="8.65"/><rect x="109.39" y="61.15" width="12.61" height="8.65"/><rect x="131" y="61.15" width="11.91" height="8.65"/><rect x="303.62" y="1050.77" width="11.38" height="8.03"/><rect x="323" y="1050.77" width="10.81" height="8.03"/><rect x="336.62" y="1050.77" width="11.38" height="8.03"/><rect x="356" y="1050.77" width="10.81" height="8.03"/><rect x="484.62" y="1050.77" width="11.38" height="8.03"/><rect x="504" y="1050.77" width="10.81" height="8.03"/><rect x="1807.51" y="599.83" width="11.49" height="7.97"/><rect x="1827" y="599.83" width="10.99" height="7.97"/><rect x="1841.51" y="599.83" width="11.49" height="7.97"/><rect x="1861" y="599.83" width="10.99" height="7.97"/></g></mask></defs>
</g>
</svg>
</body></html>
